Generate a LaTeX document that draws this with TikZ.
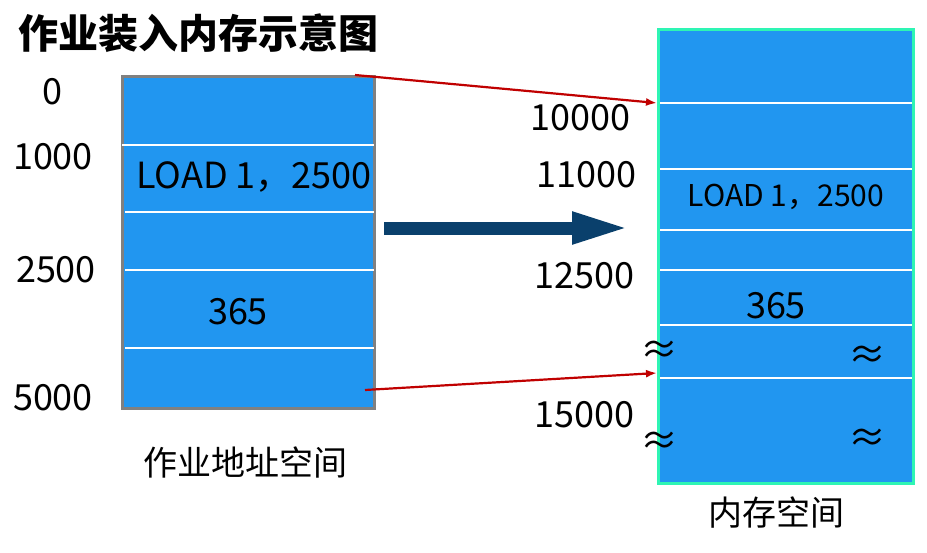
\documentclass[tikz,border=0pt]{standalone}
\usepackage{fontspec}
\setmainfont{Noto Sans CJK SC}
\usepackage{tikz}
\usetikzlibrary{arrows.meta,positioning,calc}
\definecolor{cellblue}{RGB}{33,150,240}
\definecolor{memgreen}{RGB}{46,245,180}
\definecolor{linkred}{RGB}{192,0,0}
\definecolor{movenavy}{RGB}{10,64,108}

\begin{document}
\begin{tikzpicture}[x=1pt,y=-1pt,
  label/.style={font=\fontsize{36}{42}\selectfont, inner sep=0pt},
  caption/.style={font=\fontsize{34}{40}\selectfont, inner sep=0pt},
  small/.style={font=\fontsize{30}{36}\selectfont, inner sep=0pt},
  approx/.style={font=\fontsize{38}{42}\selectfont, inner sep=0pt},
  space/.style={rectangle, fill=cellblue, line width=3pt, inner sep=0pt},
  sep/.style={draw=white, line width=2.5pt},
  link/.style={draw=linkred, line width=2.2pt, -{Latex[length=11pt,width=8pt]}}
]
\useasboundingbox (0,0) rectangle (927,552);

\node[font=\fontsize{40}{46}\selectfont\bfseries, inner sep=0pt] (title) at (199,33) {作业装入内存示意图};

% job address space
\node[space, draw=gray, minimum width=252pt, minimum height=332pt] (job) at (248.5,242.5) {};
\draw[sep] (122,145) -- (374,145);
\foreach \y in {212,270,348}
  \draw[sep] (125,\y) -- (374,\y);
\node[label] (j0) at (52,92) {0};
\node[label] (j1000) at (53,157) {1000};
\node[label] (j2500) at (56,270) {2500};
\node[label] (j5000) at (53,398) {5000};
\node[label] (jload) at (254,177) {LOAD 1，2500};
\node[label] (j365) at (238,312) {365};
\node[caption] (jname) at (245,462) {作业地址空间};

% memory space
\node[space, draw=memgreen, minimum width=255pt, minimum height=454pt] (mem) at (786,256.5) {};
\foreach \y in {103,169,230,270,325,378}
  \draw[sep] (660,\y) -- (912,\y);
\node[label, anchor=east] (m10000) at (631,118) {10000};
\node[label, anchor=east] (m11000) at (637,175) {11000};
\node[label, anchor=east] (m12500) at (635,276) {12500};
\node[label, anchor=east] (m15000) at (635,415) {15000};
\node[small] (mload) at (786,197) {LOAD 1，2500};
\node[label] (m365) at (776,306) {365};
\node[approx] (w1) at (659,352) {≈};
\node[approx] (w2) at (867,357) {≈};
\node[approx] (w3) at (659,443) {≈};
\node[approx] (w4) at (867,440) {≈};
\node[caption] (mname) at (776,513) {内存空间};

% loading
\coordinate (s1) at (355,75);
\coordinate (t1) at (mem.west |- 0,103);
\coordinate (s2) at (365,390);
\coordinate (t2) at (mem.west |- 0,373);
\draw[link] (s1) -- (t1);
\draw[link] (s2) -- (t2);
\coordinate (ms) at (384,228);
\coordinate (me) at (630,228);
\draw[draw=movenavy, line width=13pt, -{Triangle[length=58pt,width=29pt]}] (ms) -- (me);
\end{tikzpicture}
\end{document}
